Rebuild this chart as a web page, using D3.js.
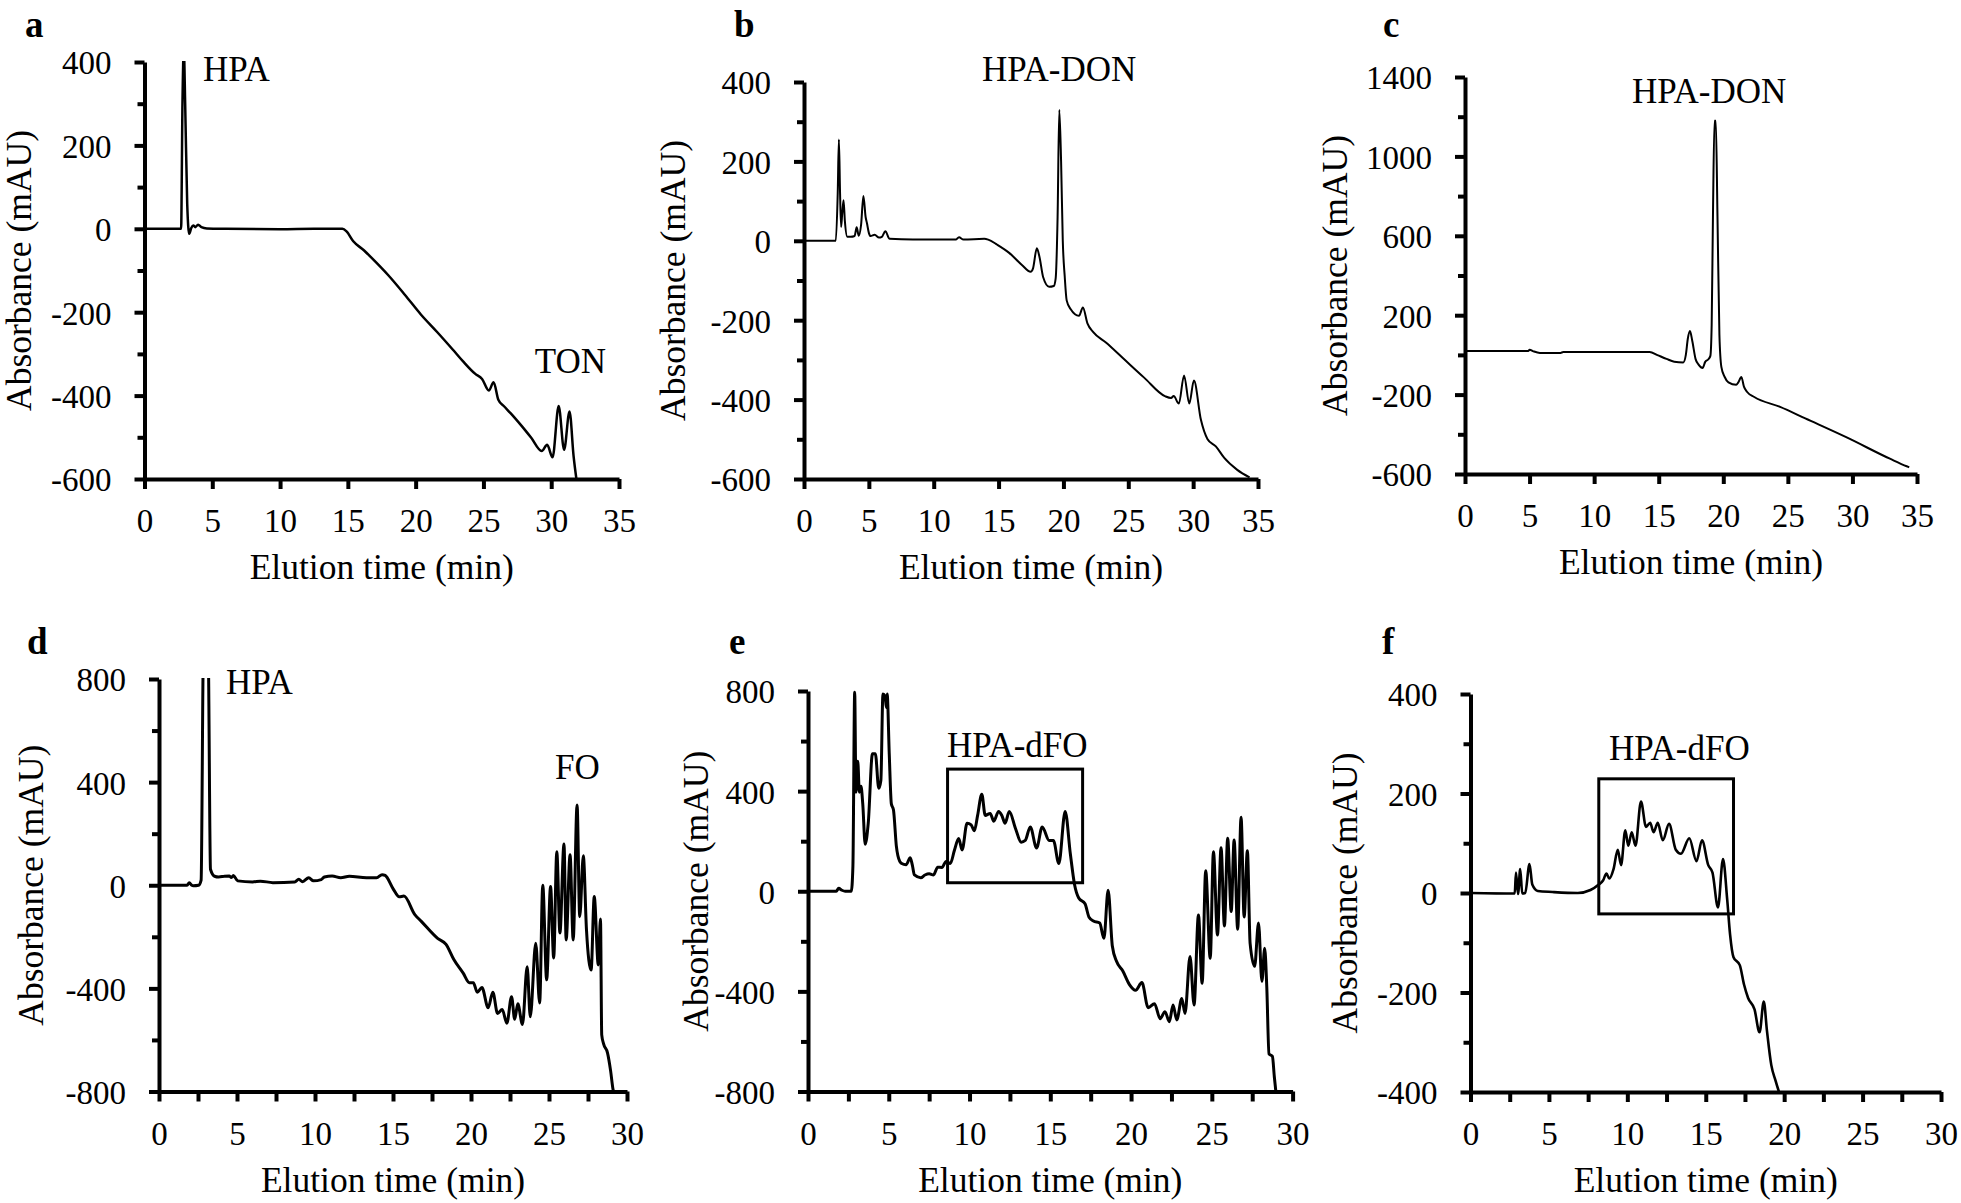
<!DOCTYPE html>
<html><head><meta charset="utf-8">
<script src="https://cdn.jsdelivr.net/npm/d3@7"></script>
<style>
body{margin:0;background:#fff;}
svg{display:block;}
text{font-family:"Liberation Serif","Times New Roman",serif;fill:#000;}
</style></head><body>
<svg id="chart" width="1961" height="1203"></svg>
<script>
// ---------- DATA (time in min, absorbance in mAU) ----------
const panelA = [[0,0],[2.7,0],[2.8,300],[2.9,430],[3.0,300],[3.15,60],[3.3,-12],[3.45,2],[3.6,8],[3.75,4],[3.95,10],[4.2,4],[4.6,1],[6,0],[10,-1],[12.5,0],[14.6,0],[14.9,-6],[15.4,-30],[16.2,-52],[16.7,-68],[18,-112],[19.2,-158],[20.4,-206],[21.6,-248],[22.75,-290],[23.5,-318],[24.4,-348],[24.9,-360],[25.4,-388],[25.75,-368],[26.1,-410],[26.5,-425],[27,-442],[27.8,-472],[28.5,-500],[29.3,-533],[29.7,-518],[30.1,-548],[30.55,-425],[30.95,-530],[31.35,-438],[31.65,-545],[31.9,-610]];
const panelB = [[0,0],[2.45,0],[2.6,120],[2.69,255],[2.78,120],[2.86,35],[2.95,70],[3.05,102],[3.15,50],[3.34,10],[3.6,10],[3.9,12],[4.06,34],[4.22,13],[4.4,40],[4.58,113],[4.75,60],[4.85,45],[5.0,20],[5.13,12],[5.45,15],[5.78,8],[6.0,10],[6.27,24],[6.6,5],[8.4,3],[10,3],[11.7,3],[11.95,9],[12.3,3],[13.9,5],[14.2,3],[14.9,-10],[15.84,-31],[16.8,-61],[17.47,-78],[17.65,-70],[17.95,-19],[18.15,-40],[18.44,-92],[18.9,-116],[19.25,-114],[19.4,-95],[19.55,60],[19.68,330],[19.82,200],[19.95,0],[20.1,-90],[20.25,-150],[20.55,-172],[21.2,-189],[21.5,-168],[21.85,-208],[22.3,-230],[23.3,-257],[24.6,-296],[26.2,-344],[27.86,-392],[28.3,-396],[28.5,-391],[28.9,-410],[29.3,-339],[29.7,-410],[30.06,-352],[30.6,-451],[31.1,-499],[31.75,-518],[32.4,-547],[33.4,-577],[34.35,-596]];
const panelC = [[0,20],[4.9,20],[5.0,26],[5.3,18],[5.8,10],[7.4,10],[7.6,14],[10,15],[14.3,15],[14.9,-1],[15.6,-20],[16.2,-34],[16.9,-38],[17.1,0],[17.25,80],[17.42,120],[17.6,70],[17.85,-20],[18.1,-50],[18.4,-66],[18.6,-35],[18.85,-22],[19.0,-5],[19.1,150],[19.2,700],[19.32,1180],[19.42,1180],[19.55,700],[19.7,100],[19.85,-60],[20.1,-110],[20.4,-138],[21.0,-150],[21.15,-140],[21.4,-111],[21.6,-160],[21.85,-187],[22.4,-212],[24.4,-262],[26.35,-320],[29.6,-417],[32.9,-523],[34.2,-561],[34.4,-566]];
const panelD = [[0,0],[1.8,0],[1.94,10],[2.1,0],[2.2,-2],[2.54,0],[2.7,20],[2.85,900],[3.15,900],[3.3,62],[3.56,35],[3.83,32],[4.2,35],[4.5,36],[4.64,30],[4.77,38],[5.04,17],[6.0,13],[6.5,16],[7.3,10],[8.7,13],[8.96,23],[9.2,14],[9.6,29],[9.9,17],[10.4,22],[10.6,32],[11.1,36],[11.65,29],[12.2,35],[13.3,29],[13.95,29],[14.3,41],[14.5,38],[15.0,-13],[15.4,-45],[15.7,-42],[16.4,-114],[16.8,-139],[17.86,-206],[18.4,-229],[18.9,-288],[19.5,-341],[19.9,-378],[20.15,-378],[20.4,-415],[20.7,-397],[21.1,-475],[21.4,-415],[21.7,-497],[22.0,-482],[22.3,-535],[22.6,-432],[22.8,-520],[23.0,-460],[23.3,-540],[23.6,-316],[23.8,-510],[24.15,-225],[24.4,-457],[24.6,0],[24.85,-367],[25.1,-5],[25.3,-282],[25.5,130],[25.7,-185],[25.96,160],[26.1,-212],[26.35,118],[26.55,-212],[26.8,311],[26.97,-122],[27.2,114],[27.4,-170],[27.7,-329],[27.9,-44],[28.16,-309],[28.3,-131],[28.38,-580],[28.5,-615],[28.75,-650],[28.95,-720],[29.1,-790],[29.2,-815]];
const panelE = [[0,0],[1.75,0],[1.9,12],[2.1,4],[2.3,0],[2.68,0],[2.78,100],[2.89,795],[2.97,396],[3.08,519],[3.18,396],[3.28,419],[3.39,349],[3.54,188],[3.73,272],[3.99,549],[4.17,549],[4.38,411],[4.51,442],[4.64,788],[4.77,780],[4.85,734],[4.9,788],[5.03,549],[5.16,349],[5.29,326],[5.47,180],[5.68,119],[5.8,111],[6.07,106],[6.33,134],[6.46,104],[6.59,65],[6.98,54],[7.24,65],[7.5,70],[7.77,65],[8.03,96],[8.29,95],[8.55,119],[8.81,111],[9.07,165],[9.33,211],[9.54,165],[9.85,272],[10.1,265],[10.3,242],[10.5,303],[10.76,388],[10.97,303],[11.28,311],[11.5,280],[11.8,319],[12.0,303],[12.2,272],[12.46,319],[12.85,250],[13.2,196],[13.45,203],[13.76,257],[14.15,173],[14.5,257],[14.93,203],[15.19,203],[15.53,111],[15.92,319],[16.24,150],[16.5,27],[16.76,-27],[17.15,-50],[17.4,-104],[17.67,-119],[18.06,-127],[18.32,-188],[18.58,4],[18.84,-219],[19.1,-280],[19.49,-319],[19.9,-373],[20.28,-396],[20.67,-365],[21.06,-465],[21.45,-449],[21.8,-509],[22.1,-481],[22.37,-521],[22.6,-454],[22.83,-514],[23.14,-428],[23.34,-488],[23.65,-261],[23.9,-454],[24.17,-95],[24.4,-368],[24.62,82],[24.9,-268],[25.1,158],[25.35,-175],[25.57,174],[25.78,-139],[25.98,212],[26.2,-81],[26.38,205],[26.6,-152],[26.81,296],[27.0,-103],[27.2,162],[27.37,-208],[27.65,-300],[27.89,-127],[28.1,-360],[28.27,-228],[28.4,-380],[28.54,-650],[28.75,-660],[28.87,-742],[28.98,-810]];
const panelF = [[0,0],[2.82,-1],[2.9,41],[3.03,-2],[3.17,48],[3.3,-1],[3.49,0],[3.76,58],[3.94,17],[4.29,4],[5.23,2],[6.84,0],[7.65,6],[8.18,17],[8.45,25],[8.67,39],[8.85,29],[9.12,48],[9.39,87],[9.6,56],[9.87,126],[10.06,95],[10.28,122],[10.52,95],[10.87,184],[11.19,133],[11.46,141],[11.67,122],[11.94,141],[12.26,106],[12.66,139],[13.09,87],[13.42,79],[13.95,110],[14.41,64],[14.76,106],[15.16,56],[15.43,41],[15.78,-29],[16.1,68],[16.37,-14],[16.55,-83],[16.77,-129],[17.17,-145],[17.44,-184],[17.7,-211],[18.11,-234],[18.43,-280],[18.7,-218],[18.9,-276],[19.18,-346],[19.45,-377],[19.72,-405]];

// ---------- TICKS ----------
const xTicks35 = [0,5,10,15,20,25,30,35];
const xTicks30 = [0,2.5,5,7.5,10,12.5,15,17.5,20,22.5,25,27.5,30];
const yTicksAB = [400,300,200,100,0,-100,-200,-300,-400,-500,-600];
const yLabelsAB = [400,200,0,-200,-400,-600];
const yTicksC = [1400,1200,1000,800,600,400,200,0,-200,-400,-600];
const yLabelsC = [1400,1000,600,200,-200,-600];
const yTicksDE = [800,600,400,200,0,-200,-400,-600,-800];
const yLabelsDE = [800,400,0,-400,-800];
const yTicksF = [400,300,200,100,0,-100,-200,-300,-400];
const yLabelsF = [400,200,0,-200,-400];

// ---------- ANNOTATIONS (data coords) ----------
const notesA = [{text:"HPA", t:4.31, v:354}, {text:"TON", t:28.78, v:-346}];
const notesB = [{text:"HPA-DON", t:13.72, v:402}];
const notesC = [{text:"HPA-DON", t:12.93, v:1269}];
const notesD = [{text:"HPA", t:4.29, v:742}, {text:"FO", t:25.38, v:412}];
const notesE = [{text:"HPA-dFO", t:8.6, v:536}];
const notesF = [{text:"HPA-dFO", t:8.83, v:267}];
const boxE = {t0:8.64, t1:17.0, v0:34, v1:488};
const boxF = {t0:8.18, t1:16.77, v0:-42, v1:229.5};

// ---------- LAYOUT ----------
const panels = [
 {id:"a", data:panelA, xMax:35, xTicks:xTicks35, yMin:-600, yMax:400, yTicks:yTicksAB, yLabels:yLabelsAB,
  x0:144.5, x1:619, yTop:62, yBot:479, lw:2.5, lab:[25,37], ytx:31, notes:notesA},
 {id:"b", data:panelB, xMax:35, xTicks:xTicks35, yMin:-600, yMax:400, yTicks:yTicksAB, yLabels:yLabelsAB,
  x0:804, x1:1258, yTop:82, yBot:479, lw:2, lab:[734,37], ytx:685, notes:notesB},
 {id:"c", data:panelC, xMax:35, xTicks:xTicks35, yMin:-600, yMax:1400, yTicks:yTicksC, yLabels:yLabelsC,
  x0:1465, x1:1917, yTop:77, yBot:474, lw:2, lab:[1383,37], ytx:1347, notes:notesC},
 {id:"d", data:panelD, xMax:30, xTicks:xTicks30, yMin:-800, yMax:800, yTicks:yTicksDE, yLabels:yLabelsDE,
  x0:159, x1:627, yTop:679, yBot:1091.5, lw:3, lab:[27,654], ytx:43, notes:notesD},
 {id:"e", data:panelE, xMax:30, xTicks:xTicks30, yMin:-800, yMax:800, yTicks:yTicksDE, yLabels:yLabelsDE,
  x0:808, x1:1292.6, yTop:691, yBot:1091.5, lw:3, lab:[729,654], ytx:708, notes:notesE, box:boxE},
 {id:"f", data:panelF, xMax:30, xTicks:xTicks30, yMin:-400, yMax:400, yTicks:yTicksF, yLabels:yLabelsF,
  x0:1470.5, x1:1941, yTop:694, yBot:1092, lw:2.6, lab:[1382,654], ytx:1357, notes:notesF, box:boxF}
];

const svg = d3.select("#chart");
const defs = svg.append("defs");

panels.forEach(p => {
  const x = d3.scaleLinear().domain([0, p.xMax]).range([p.x0, p.x1]);
  const y = d3.scaleLinear().domain([p.yMin, p.yMax]).range([p.yBot, p.yTop]);
  const g = svg.append("g");

  defs.append("clipPath").attr("id", "clip-" + p.id).append("rect")
    .attr("x", p.x0).attr("y", p.yTop - 1)
    .attr("width", p.x1 - p.x0 + 10).attr("height", p.yBot - p.yTop + 1);

  // chromatogram
  const line = d3.line().x(d => x(d[0])).y(d => y(d[1])).curve(d3.curveMonotoneX);
  g.append("path").datum(p.data).attr("d", line)
    .attr("fill", "none").attr("stroke", "#000").attr("stroke-width", p.lw)
    .attr("stroke-linejoin", "round").attr("clip-path", `url(#clip-${p.id})`);

  // box
  if (p.box) {
    g.append("rect")
      .attr("x", x(p.box.t0)).attr("y", y(p.box.v1))
      .attr("width", x(p.box.t1) - x(p.box.t0)).attr("height", y(p.box.v0) - y(p.box.v1))
      .attr("fill", "none").attr("stroke", "#000").attr("stroke-width", 3);
  }

  // y axis
  const yAxis = d3.axisLeft(y).tickValues(p.yTicks).tickSize(9).tickSizeOuter(0).tickPadding(24)
    .tickFormat(v => p.yLabels.includes(v) ? String(v) : "");
  const ga = g.append("g").attr("transform", `translate(${p.x0},0)`).call(yAxis);
  ga.select(".domain").attr("stroke-width", 4);
  ga.selectAll(".tick line").attr("stroke-width", 4)
    .attr("x2", v => p.yLabels.includes(v) ? -10 : -7);
  ga.selectAll(".tick text").attr("font-size", 33).attr("dy", "0.36em")
    .style("font-family", "'Liberation Serif', serif");

  // x axis
  const xAxis = d3.axisBottom(x).tickValues(p.xTicks).tickSize(10).tickSizeOuter(0).tickPadding(20)
    .tickFormat(v => v % 5 === 0 ? String(v) : "");
  const gx = g.append("g").attr("transform", `translate(0,${p.yBot})`).call(xAxis);
  gx.select(".domain").attr("stroke-width", 4);
  gx.selectAll(".tick line").attr("stroke-width", 4);
  gx.selectAll(".tick text").attr("font-size", 33).attr("dy", "0.71em")
    .style("font-family", "'Liberation Serif', serif");
  ga.raise();

  // titles
  g.append("text").attr("x", (p.x0 + p.x1) / 2).attr("y", p.yBot + 100)
    .attr("text-anchor", "middle").attr("font-size", 35.5).text("Elution time (min)");
  g.append("text").attr("transform", `translate(${p.ytx},${(p.yTop + p.yBot) / 2}) rotate(-90)`)
    .attr("text-anchor", "middle").attr("font-size", 35.5).text("Absorbance (mAU)");

  // panel letter
  g.append("text").attr("x", p.lab[0]).attr("y", p.lab[1])
    .attr("font-size", 37).attr("font-weight", "bold").text(p.id);

  // annotations
  p.notes.forEach(n => {
    g.append("text").attr("x", x(n.t)).attr("y", y(n.v)).attr("font-size", 35).text(n.text);
  });
});
</script>
</body></html>
